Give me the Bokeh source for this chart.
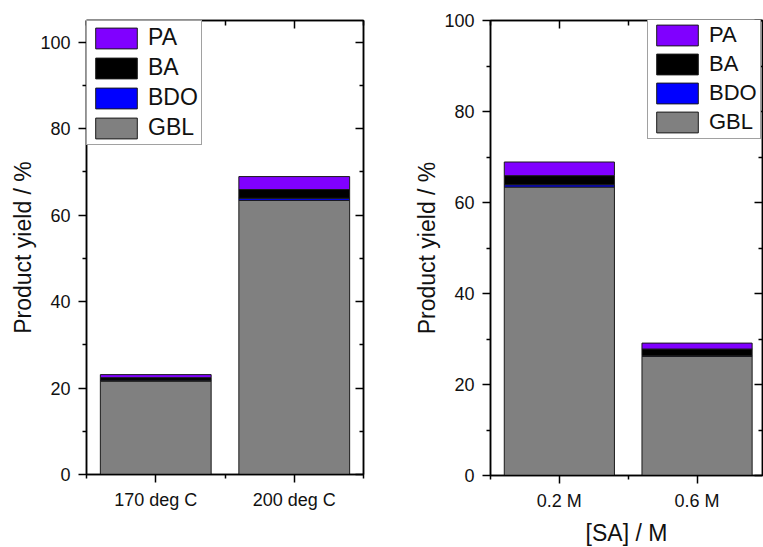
from bokeh.plotting import figure
from bokeh.models import Range1d, FixedTicker, LinearAxis, Legend, LegendItem, ColumnDataSource
from bokeh.layouts import row
from bokeh.embed import file_html
from bokeh.resources import INLINE

FONT = "Liberation Sans"

# stacking order (bottom -> top) and colours
stack_names = ["GBL", "BDO", "BA", "PA"]
stack_colors = ["#808080", "#0000FF", "#000000", "#8000FF"]

# left panel: temperature
temp_labels = ["170 deg C", "200 deg C"]
temp_gbl = [21.6, 63.4]
temp_bdo = [0.2, 0.5]
temp_ba = [0.6, 2.0]
temp_pa = [0.7, 3.0]

# right panel: SA concentration
conc_labels = ["0.2 M", "0.6 M"]
conc_gbl = [63.4, 26.2]
conc_bdo = [0.5, 0.1]
conc_ba = [2.0, 1.5]
conc_pa = [3.0, 1.3]

y_major = [0, 20, 40, 60, 80, 100]
y_minor = [10, 30, 50, 70, 90]


def style_axis(ax, tick_in, tick_out, minor_in, minor_out):
    ax.axis_line_width = 1.5
    ax.axis_line_color = "black"
    ax.major_tick_line_width = 1.5
    ax.minor_tick_line_width = 1.5
    ax.major_tick_line_color = "black"
    ax.minor_tick_line_color = "black"
    ax.major_tick_in = tick_in
    ax.major_tick_out = tick_out
    ax.minor_tick_in = minor_in
    ax.minor_tick_out = minor_out
    ax.major_label_text_font = FONT
    ax.major_label_text_font_size = "18px"
    ax.major_label_text_color = "#111111"
    ax.axis_label_text_font = FONT
    ax.axis_label_text_font_size = "23px"
    ax.axis_label_text_font_style = "normal"
    ax.axis_label_text_color = "#111111"


def blank_axis(ax):
    ax.major_label_text_font_size = "1px"
    ax.major_label_standoff = 0


def make_panel(labels, gbl, bdo, ba, pa, y_max, x_max, xlabel,
               frame_w, frame_h, mb_left, mb_right, mb_top, mb_bottom,
               legend_loc, legend_font):
    pos = list(range(1, len(labels) + 1))
    src = ColumnDataSource(dict(x=pos, GBL=gbl, BDO=bdo, BA=ba, PA=pa))
    p = figure(frame_width=frame_w, frame_height=frame_h,
               x_range=Range1d(0.5, x_max), y_range=Range1d(0, y_max),
               output_backend="svg", toolbar_location=None,
               min_border_left=mb_left, min_border_right=mb_right,
               min_border_top=mb_top, min_border_bottom=mb_bottom,
               background_fill_color="white", border_fill_color="white")
    p.xgrid.visible = False
    p.ygrid.visible = False
    p.outline_line_color = "black"
    p.outline_line_width = 1.5

    rs = p.vbar_stack(stack_names, x="x", width=0.8, source=src,
                      fill_color=stack_colors, line_color="#1a1a1a", line_width=1)

    xt = FixedTicker(ticks=pos, minor_ticks=[0.5, 1.5, 2.5])
    yt = FixedTicker(ticks=y_major, minor_ticks=y_minor)

    xa = p.xaxis[0]
    xa.ticker = xt
    xa.major_label_overrides = {k: lab for k, lab in zip(pos, labels)}
    style_axis(xa, 0, 8, 0, 4)
    xa.major_label_standoff = 7
    if xlabel:
        xa.axis_label = xlabel
        xa.axis_label_standoff = 6

    ya = p.yaxis[0]
    ya.ticker = yt
    style_axis(ya, 0, 8, 0, 4)
    ya.major_label_standoff = 8
    ya.axis_label = "Product yield / %"
    ya.axis_label_standoff = 1

    top = LinearAxis(ticker=xt, major_label_overrides={k: "" for k in pos})
    style_axis(top, 8, 0, 5, 0)
    blank_axis(top)
    p.add_layout(top, "above")

    right = LinearAxis(ticker=yt, major_label_overrides={k: "" for k in y_major})
    style_axis(right, 8, 0, 4, 0)
    blank_axis(right)
    p.add_layout(right, "right")

    items = [LegendItem(label=n, renderers=[r]) for n, r in zip(stack_names, rs)][::-1]
    leg = Legend(items=items, location=legend_loc, margin=0, padding=3, spacing=3,
                 glyph_width=52, glyph_height=26, label_height=26, label_standoff=6,
                 label_text_font=FONT, label_text_font_size=legend_font,
                 label_text_color="#111111",
                 border_line_color="#444444", border_line_width=1,
                 background_fill_color="white", background_fill_alpha=1)
    p.add_layout(leg)
    return p


p1 = make_panel(temp_labels, temp_gbl, temp_bdo, temp_ba, temp_pa,
                105, 2.5, None, 277, 454, 86, 47, 18, 64, "top_left", "23px")
p2 = make_panel(conc_labels, conc_gbl, conc_bdo, conc_ba, conc_pa,
                100, 0.5 + 272 / 137.7, "[SA] / M", 272, 455, 80, 1, 20, 70,
                (157, 455 - 119), "22px")

layout = row(p1, p2)
open("out.html", "w").write(file_html(layout, INLINE))
